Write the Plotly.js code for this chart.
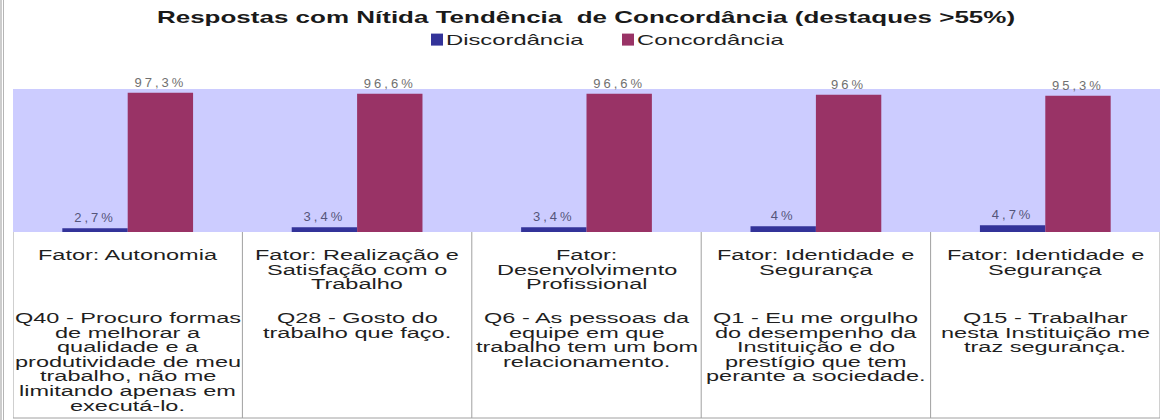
<!DOCTYPE html>
<html><head><meta charset="utf-8">
<script src="https://cdn.plot.ly/plotly-3.0.1.min.js"></script>
<style>
html,body{margin:0;padding:0;background:#fff;}
#chart{width:1163px;height:420px;}
.annotation-text{transform-box:fill-box;transform-origin:center;transform:scaleX(1.68);}
.gtitle{transform-box:fill-box;transform-origin:center;transform:scaleX(1.625);}
.legendtext{transform-box:fill-box;transform-origin:left center;transform:translateX(-11px) scaleX(1.7);}
.bartext{letter-spacing:3px;}
</style></head><body><div id="chart"></div>
<script>
const questions = ['Q40', 'Q28', 'Q6', 'Q1', 'Q15'];
const discordancia = [2.7, 3.4, 3.4, 4, 4.7];
const concordancia = [97.3, 96.6, 96.6, 96, 95.3];
const factorLines = [
  ['Fator: Autonomia'],
  ['Fator: Realização e', 'Satisfação com o', 'Trabalho'],
  ['Fator:', 'Desenvolvimento', 'Profissional'],
  ['Fator: Identidade e', 'Segurança'],
  ['Fator: Identidade e', 'Segurança']
];
const questionLines = [
  ['Q40 - Procuro formas', 'de melhorar a', 'qualidade e a', 'produtividade de meu', 'trabalho, não me', 'limitando apenas em', 'executá-lo.'],
  ['Q28 - Gosto do', 'trabalho que faço.'],
  ['Q6 - As pessoas da', 'equipe em que', 'trabalho tem um bom', 'relacionamento.'],
  ['Q1 - Eu me orgulho', 'do desempenho da', 'Instituição e do', 'prestígio que tem', 'perante a sociedade.'],
  ['Q15 - Trabalhar', 'nesta Instituição me', 'traz segurança.']
];
const seriesNames = ['Discordância', 'Concordância'];
const titleText = 'Respostas com Nítida Tendência \u00a0de Concordância (destaques >55%)';

const W = 1163, H = 420;
const M = {l: 13, r: 3, t: 89, b: 188};
const plotH = H - M.t - M.b;
const plotBottomPx = H - M.b;
const py = p => (plotBottomPx - p) / plotH;   // pixel row -> paper y
const px = p => (p - M.l) / (W - M.l - M.r); // pixel col -> paper x

const fmt = v => String(v).replace('.', ',') + '%';

const traces = [
  {type: 'bar', name: seriesNames[0], x: questions, y: discordancia,
   marker: {color: '#333399'}, text: discordancia.map(fmt), textposition: 'outside',
   cliponaxis: false, textfont: {family: 'Liberation Sans', size: 13, color: '#55557a'}, hoverinfo: 'none'},
  {type: 'bar', name: seriesNames[1], x: questions, y: concordancia,
   marker: {color: '#993366'}, text: concordancia.map(fmt), textposition: 'outside',
   cliponaxis: false, textfont: {family: 'Liberation Sans', size: 13, color: '#707070'}, hoverinfo: 'none'}
];

const annotations = [];
const lineH = 14.6;
const cellFont = {family: 'Liberation Sans', size: 14, color: '#1f1f1f'};
questions.forEach((q, i) => {
  factorLines[i].forEach((t, j) => annotations.push({
    x: q, xref: 'x', y: py(255 + j * lineH), yref: 'paper', text: t, showarrow: false,
    xanchor: 'center', yanchor: 'middle', font: cellFont
  }));
  questionLines[i].forEach((t, j) => annotations.push({
    x: q, xref: 'x', y: py(318 + j * lineH), yref: 'paper', text: t, showarrow: false,
    xanchor: 'center', yanchor: 'middle', font: cellFont
  }));
});

const gridColor = '#a0a0a0';
const shapes = [];
for (let i = 0; i <= questions.length; i++) {
  shapes.push({type: 'line', xref: 'x', x0: i - 0.5, x1: i - 0.5, yref: 'paper', y0: 0, y1: py(418),
    line: {color: gridColor, width: 1}});
}
shapes.push({type: 'line', xref: 'paper', x0: 0, x1: 1, yref: 'paper', y0: py(418), y1: py(418),
  line: {color: gridColor, width: 1}});
// outer frame at the far left
shapes.push({type: 'line', xref: 'paper', x0: px(1), x1: px(1), yref: 'paper', y0: py(0), y1: py(420),
  line: {color: '#9a9a9a', width: 1}});
shapes.push({type: 'line', xref: 'paper', x0: px(3.5), x1: px(3.5), yref: 'paper', y0: py(0), y1: py(420),
  line: {color: '#b5b5b5', width: 1}});

const layout = {
  width: W, height: H, margin: M,
  paper_bgcolor: '#ffffff', plot_bgcolor: '#ccccff',
  title: {text: titleText, x: 586 / W, xanchor: 'center', xref: 'container', y: 1 - 17 / H, yanchor: 'middle',
    font: {family: 'Liberation Sans', size: 16, weight: 'bold', color: '#1a1a1a'}},
  showlegend: true,
  legend: {orientation: 'h', x: px(417), xanchor: 'left', y: py(40), yanchor: 'middle',
    font: {family: 'Liberation Sans', size: 14, color: '#1f1f1f'}, bgcolor: 'rgba(0,0,0,0)',
    entrywidth: 146, traceorder: 'normal'},
  barmode: 'group', bargap: 0.43, bargroupgap: 0,
  xaxis: {type: 'category', range: [-0.5, 4.5], showticklabels: false, showgrid: false, zeroline: false, showline: false, ticks: ''},
  yaxis: {range: [0, 100], visible: false, showgrid: false, zeroline: false},
  annotations: annotations, shapes: shapes
};

Plotly.newPlot('chart', traces, layout, {staticPlot: true, displayModeBar: false});
</script></body></html>
